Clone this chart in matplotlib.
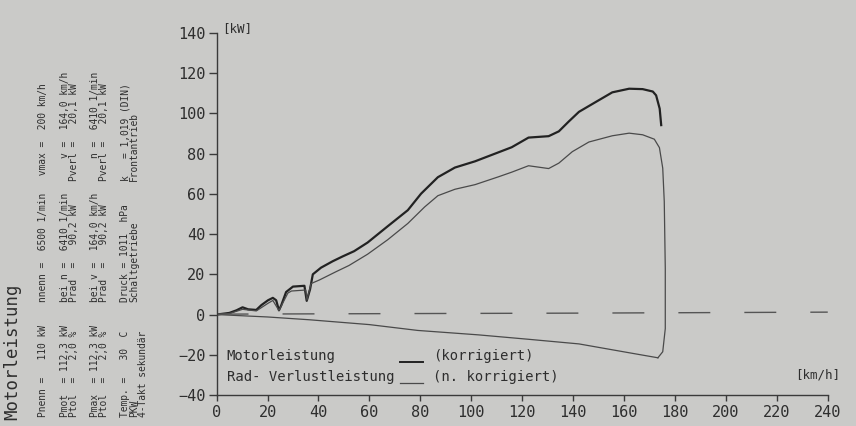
import matplotlib
matplotlib.use("Agg")
import matplotlib.pyplot as plt

# Motorleistung (korrigiert), thick dark line
motor_v = [0, 5, 7.8, 10.2, 12.4, 15.6, 17.6, 20.2, 22.1, 23.4, 24.5, 25.4, 27.3, 30, 34.5,
           35.4, 36.7, 37.8, 41, 45.6, 49.5, 54, 59.3, 67.2, 75.1, 80.3, 86.9, 93.6,
           101.5, 112, 115.9, 122.5, 130.4, 134.4, 138.3, 142.3, 148.9, 155.4, 162,
           167.3, 171.3, 172.6, 174, 174.6]
motor_p = [0, 0.8, 2.1, 3.6, 2.6, 2.3, 4.7, 7.1, 8.3, 7.1, 2.1, 4.6, 11.2, 13.9, 14.3,
           6.8, 12.5, 20, 23.3, 26.5, 28.9, 31.5, 35.8, 43.9, 51.9, 60.1, 68.3, 73.1,
           76.2, 81.3, 83.2, 88, 88.7, 91.1, 96, 100.8, 105.7, 110.5, 112.3,
           112.1, 110.9, 109, 102.4, 94.2]

# Radleistung (n. korrigiert), thin line, runs down into the loss curve
rad_v = [0, 5, 10.2, 15.6, 20.2, 22.1, 24.5, 28, 29.4, 35, 35.5, 37.1, 40.4, 46.9, 52,
         59.3, 67.2, 75.1, 81.7, 86.9, 93.6, 101.5, 110.7, 115.9, 122.5, 130.4, 134.4,
         139.7, 146.2, 155.4, 162, 167.3, 171.9, 173.9, 175.2, 175.8, 176.2, 176.2,
         175.2, 173.3]
rad_p = [0, 0.5, 2.6, 1.8, 5.6, 7, 2, 10.7, 11.7, 12.2, 7.2, 15.4, 17.2, 21.3, 24.4,
         30, 37.2, 45.3, 53.5, 59.1, 62.3, 64.6, 68.5, 70.8, 74, 72.6, 75.3,
         81, 85.8, 88.9, 90.2, 89.4, 87.2, 83, 72.8, 56.2, 23, -7,
         -18.5, -21.5]

# Verlustleistung
verl_v = [0, 20, 36.5, 60, 79, 102.8, 122.5, 142.3, 162, 173.3]
verl_p = [0, -1.2, -2.6, -5, -7.9, -10.1, -12.3, -14.6, -19, -21.5]

# dashed line
dash_v = [0, 80, 140, 200, 240]
dash_p = [0.2, 0.5, 0.7, 1.0, 1.2]

info_lines = [
    ["Pnenn =   110 kW", "nnenn =  6500 1/min", " vmax =  200 km/h"],
    ["Pmot  = 112,3 kW", "bei n =  6410 1/min", "    v =  164,0 km/h"],
    ["Ptol  =   2,0 %", "Prad  =   90,2 kW", "Pverl =   20,1 kW"],
    ["Pmax  = 112,3 kW", "bei v =  164,0 km/h", "    n =  6410 1/min"],
    ["Ptol  =   2,0 %", "Prad  =   90,2 kW", "Pverl =   20,1 kW"],
    ["Temp. =   30  C", "Druck = 1011  hPa", "k   = 1,019 (DIN)"],
    ["PKW", "Schaltgetriebe", "Frontantrieb"],
    ["4-Takt sekundär", "", ""],
]
info_x = [43, 65, 74, 95, 104, 125, 134, 143]

bg = '#cacac8'
ink = '#2e2e2e'
mono = 'DejaVu Sans Mono'

fig = plt.figure(figsize=(8.56, 4.26), dpi=100, facecolor=bg)
ax = fig.add_axes([0.253, 0.0728, 0.714, 0.8497], facecolor=bg)

ax.plot(motor_v, motor_p, color='#222222', lw=1.6)
ax.plot(rad_v, rad_p, color='#4a4a4a', lw=0.9)
ax.plot(verl_v, verl_p, color='#4a4a4a', lw=0.9)
ax.plot(dash_v, dash_p, color='#555555', lw=1.0, linestyle=(0, (23, 24.5)))

ax.set_xlim(0, 240)
ax.set_ylim(-40, 140)
ax.set_xticks(range(0, 241, 20))
ax.set_yticks(range(-40, 141, 20))
for s in ['top', 'right']:
    ax.spines[s].set_visible(False)
for s in ['left', 'bottom']:
    ax.spines[s].set_color('#3a3a3a')
    ax.spines[s].set_linewidth(1.0)
ax.tick_params(axis='y', direction='out', length=6, width=1, color='#3a3a3a', pad=2,
               labelsize=11, labelcolor=ink)
ax.tick_params(axis='x', direction='out', length=4, width=1, color='#3a3a3a', pad=3,
               labelsize=11, labelcolor=ink)
for lab in ax.get_xticklabels() + ax.get_yticklabels():
    lab.set_family(mono)

ax.text(2, 142, '[kW]', fontsize=9, family=mono, color=ink, va='center', ha='left',
        clip_on=False)
ax.text(245, -30, '[km/h]', fontsize=9, family=mono, color=ink, va='center', ha='right',
        clip_on=False)

# legend block
ax.text(4, -20.5, 'Motorleistung', fontsize=10, family=mono, color=ink, va='center')
ax.text(4, -31, 'Rad- Verlustleistung', fontsize=10, family=mono, color=ink, va='center')
ax.plot([72, 81], [-23.5, -23.5], color='#222222', lw=1.4)
ax.plot([72, 81], [-34, -34], color='#4a4a4a', lw=0.9)
ax.text(85, -20.5, '(korrigiert)', fontsize=10, family=mono, color=ink, va='center')
ax.text(85, -31, '(n. korrigiert)', fontsize=10, family=mono, color=ink, va='center')

# rotated header text on the left
fig.text(12 / 856, 1 - 420 / 426, 'Motorleistung', rotation=90, fontsize=12.5,
         family=mono, color=ink, ha='center', va='bottom')
start_y = 417
pitch = 5.75
offsets = [0, 20, 41]
for xpx, parts in zip(info_x, info_lines):
    for off, part in zip(offsets, parts):
        if not part:
            continue
        ypx = start_y - off * pitch
        fig.text(xpx / 856, 1 - ypx / 426, part, rotation=90, fontsize=6.9,
                 family=mono, color=ink, ha='center', va='bottom')

fig.savefig('out.png', dpi=100, facecolor=bg)
